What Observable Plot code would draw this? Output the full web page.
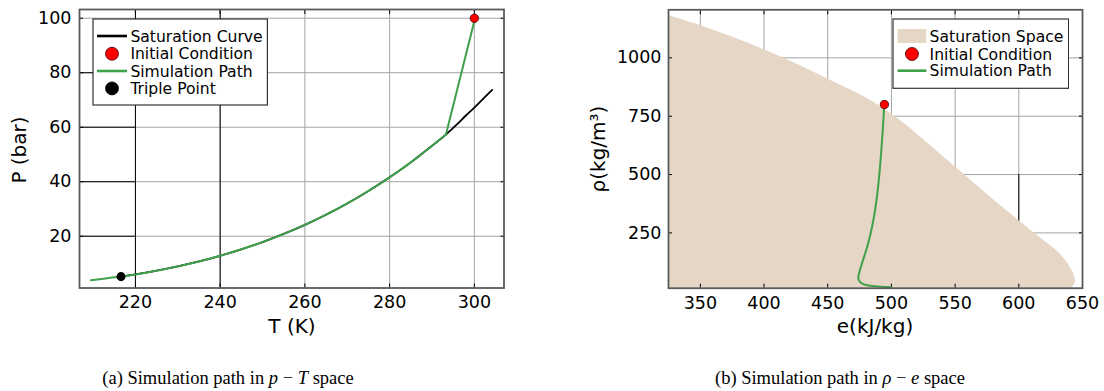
<!DOCTYPE html>
<html><head><meta charset="utf-8">
<script src="https://cdn.jsdelivr.net/npm/d3@7"></script>
<script src="https://cdn.jsdelivr.net/npm/@observablehq/plot@0.6"></script>
<style>
body{margin:0;background:#fff;font-family:"DejaVu Sans",sans-serif;}
#wrap{position:relative;width:1104px;height:391px;overflow:hidden;background:#fff;}
.panel{position:absolute;top:0;}
.lab{position:absolute;font-family:"DejaVu Sans",sans-serif;font-size:20px;white-space:nowrap;color:#000;transform:translate(-50%,-50%);}
.ylab{transform:translate(-50%,-50%) rotate(-90deg);}
.caption{position:absolute;font-family:"Liberation Serif","DejaVu Serif",serif;font-size:18.5px;white-space:nowrap;transform:translate(-50%,-50%);color:#000;}
.legend{position:absolute;}
</style></head><body><div id="wrap"></div>
<script>
// ---------- Panel (a): p - T ----------
const satT = [216.6, 220, 225, 230, 235, 240, 245, 250, 255, 260, 265, 270, 275, 280, 285, 290, 293.3, 296, 298, 300, 302, 304.2];
const satP = [5.18, 5.99, 7.36, 8.93, 10.73, 12.83, 15.2, 17.85, 20.85, 24.19, 27.9, 32.03, 36.6, 41.6, 47.1, 53.2, 57.3, 61.2, 64.3, 67.2, 70.3, 73.7];
const pathT = [209.5, 212, 216.6, 220, 225, 230, 235, 240, 245, 250, 255, 260, 265, 270, 275, 280, 285, 290, 293.3, 300];
const pathP = [3.85, 4.3, 5.18, 5.99, 7.36, 8.93, 10.73, 12.83, 15.2, 17.85, 20.85, 24.19, 27.9, 32.03, 36.6, 41.6, 47.1, 53.2, 57.3, 99];
const initT = [300], initP = [100];
const tripleT = [216.6], tripleP = [5.18];
const tTicks = [220, 240, 260, 280, 300];
const pTicks = [20, 40, 60, 80, 100];

// ---------- Panel (b): rho - e ----------
const spaceE = [325.5, 350, 375, 400, 425, 450, 475, 490, 500, 512, 525, 550, 575, 600, 620, 630, 637, 641.5, 644, 644.4, 643, 641];
const spaceRho = [1181, 1139, 1089, 1035, 975, 910, 843, 796, 760, 710, 650, 533, 416, 303, 215, 172, 130, 92, 60, 40, 22, 13];
const simE = [494.3, 493.3, 492.0, 490.5, 488.5, 485.7, 481.5, 477.5, 475, 474, 474.6, 476.5, 480, 485, 492, 500];
const simRho = [792, 700, 600, 500, 400, 300, 200, 130, 85, 60, 45, 35, 27, 22, 19, 17];
const initE = [494.5], initRho = [800];
const eTicks = [350, 400, 450, 500, 550, 600, 650];
const rhoTicks = [250, 500, 750, 1000];

const GREEN = "#3fa14a", BEIGE = "#e5d6c5", GRID = "#a3a3a3", FRAME = "#5a5a5a";
const FONT = "DejaVu Sans";

const sat = satT.map((T, i) => ({T, P: satP[i]}));
const path = pathT.map((T, i) => ({T, P: pathP[i]}));
const pathCurve = path.slice(0, path.length - 1);
const pathJump = path.slice(path.length - 2);
const init = initT.map((T, i) => ({T, P: initP[i]}));
const triple = tripleT.map((T, i) => ({T, P: tripleP[i]}));
const space = spaceE.map((e, i) => ({e, rho: spaceRho[i]}));
const sim = simE.map((e, i) => ({e, rho: simRho[i]}));
const init2 = initE.map((e, i) => ({e, rho: initRho[i]}));

const wrap = document.getElementById("wrap");
const blank = () => "";

function innerTicks(xt, yt) {
  return [
    Plot.axisX(xt, {anchor: "top", tickSize: -4, tickFormat: blank, label: null, stroke: "#000"}),
    Plot.axisX(xt, {anchor: "bottom", tickSize: -4, tickFormat: blank, label: null, stroke: "#000"}),
    Plot.axisY(yt, {anchor: "left", tickSize: -4, tickFormat: blank, label: null, stroke: "#000"}),
    Plot.axisY(yt, {anchor: "right", tickSize: -4, tickFormat: blank, label: null, stroke: "#000"})
  ];
}

const TDOM = [206.8, 307], PDOM = [1, 103.2];
const left = Plot.plot({
  width: 552, height: 340,
  marginLeft: 79, marginRight: 48.5, marginTop: 9, marginBottom: 52.5,
  style: {fontFamily: FONT, background: "transparent", overflow: "visible"},
  x: {domain: TDOM},
  y: {domain: PDOM},
  marks: [
    Plot.gridX(tTicks, {stroke: GRID, strokeOpacity: 1}),
    Plot.gridY(pTicks, {stroke: GRID, strokeOpacity: 1}),
    Plot.ruleX([220, 240], {stroke: "#000", strokeWidth: 1}),
    Plot.ruleY([20, 40, 60, 80], {x1: TDOM[0], x2: 220, stroke: "#000", strokeWidth: 1}),
    ...innerTicks(tTicks, pTicks),
    Plot.axisX(tTicks, {anchor: "bottom", tickSize: 0, tickPadding: 8, fontSize: 17.5, fontFamily: FONT, label: null}),
    Plot.axisY(pTicks, {anchor: "left", tickSize: 0, tickPadding: 8, fontSize: 17.5, fontFamily: FONT, label: null}),
    Plot.line(sat, {x: "T", y: "P", stroke: "#000", strokeWidth: 1.8, curve: "monotone-x"}),
    Plot.line(pathCurve, {x: "T", y: "P", stroke: GREEN, strokeWidth: 2, curve: "monotone-x"}),
    Plot.line(pathJump, {x: "T", y: "P", stroke: GREEN, strokeWidth: 2}),
    Plot.dot(triple, {x: "T", y: "P", r: 3.8, fill: "#000", stroke: "#000"}),
    Plot.dot(init, {x: "T", y: "P", r: 4.2, fill: "#ff0000", stroke: "#3a0000", strokeWidth: 0.8}),
    Plot.frame({stroke: FRAME, strokeWidth: 1.8})
  ]
});
left.classList.add("panel");
left.style.left = "0px";
wrap.appendChild(left);

const EDOM = [325, 650], RDOM = [13, 1206];
const right = Plot.plot({
  width: 552, height: 340,
  marginLeft: 116, marginRight: 22, marginTop: 9.3, marginBottom: 52.3,
  style: {fontFamily: FONT, background: "transparent", overflow: "visible"},
  x: {domain: EDOM},
  y: {domain: RDOM},
  marks: [
    Plot.gridX(eTicks, {stroke: GRID, strokeOpacity: 1}),
    Plot.gridY(rhoTicks, {stroke: GRID, strokeOpacity: 1}),
    Plot.ruleX([600], {y1: 500, y2: RDOM[0], stroke: "#000", strokeWidth: 1}),
    Plot.areaX(space, {y: "rho", x1: 300, x2: "e", fill: BEIGE, curve: "catmull-rom", clip: true}),
    ...innerTicks(eTicks, rhoTicks),
    Plot.axisX(eTicks, {anchor: "bottom", tickSize: 0, tickPadding: 8, fontSize: 17.5, fontFamily: FONT, label: null, tickFormat: d3.format("d")}),
    Plot.axisY(rhoTicks, {anchor: "left", tickSize: 0, tickPadding: 7, fontSize: 17.5, fontFamily: FONT, label: null, tickFormat: d3.format("d")}),
    Plot.line(sim, {x: "e", y: "rho", stroke: GREEN, strokeWidth: 2, curve: "catmull-rom"}),
    Plot.dot(init2, {x: "e", y: "rho", r: 4.2, fill: "#ff0000", stroke: "#3a0000", strokeWidth: 0.8}),
    Plot.frame({stroke: FRAME, strokeWidth: 1.8})
  ]
});
right.classList.add("panel");
right.style.left = "552px";
wrap.appendChild(right);

// axis labels
function label(text, x, y, cls) {
  const d = document.createElement("div");
  d.className = "lab" + (cls ? " " + cls : "");
  d.style.left = x + "px"; d.style.top = y + "px";
  d.textContent = text;
  wrap.appendChild(d);
}
label("T (K)", 292, 326);
label("P (bar)", 19, 150, "ylab");
label("e(kJ/kg)", 875, 326);
label("ρ(kg/m³)", 598, 149, "ylab");

// captions
function caption(html, x, y) {
  const d = document.createElement("div");
  d.className = "caption";
  d.style.left = x + "px"; d.style.top = y + "px";
  d.innerHTML = html;
  wrap.appendChild(d);
}
caption("(a) Simulation path in <i>p</i> − <i>T</i> space", 228, 378);
caption("(b) Simulation path in <i>ρ</i> − <i>e</i> space", 840, 378);

// legends
function legend(x, y, w, h, items) {
  const svg = d3.create("svg").attr("class", "legend")
    .attr("width", w + 2).attr("height", h + 2)
    .style("left", (x - 1) + "px").style("top", (y - 1) + "px");
  svg.append("rect").attr("x", 1).attr("y", 1).attr("width", w).attr("height", h)
    .attr("fill", "#fff").attr("stroke", "#333").attr("stroke-width", 1.2);
  items.forEach(it => {
    const g = svg.append("g").attr("transform", `translate(1,${1 + it.y})`);
    if (it.kind === "line") g.append("line").attr("x1", it.sx0).attr("x2", it.sx1).attr("stroke", it.color).attr("stroke-width", 2.6);
    if (it.kind === "dot") g.append("circle").attr("cx", (it.sx0 + it.sx1) / 2).attr("r", it.r).attr("fill", it.color).attr("stroke", it.stroke || it.color).attr("stroke-width", 0.8);
    if (it.kind === "rect") g.append("rect").attr("x", it.sx0).attr("y", -7).attr("width", it.sx1 - it.sx0).attr("height", 14).attr("fill", it.color);
    g.append("text").attr("x", it.tx).attr("dy", "0.36em").attr("font-size", 15.6)
      .attr("font-family", FONT).attr("fill", "#000").text(it.text);
  });
  wrap.appendChild(svg.node());
}
legend(93.3, 19.3, 174.4, 86, [
  {kind: "line", y: 17, sx0: 4, sx1: 34, color: "#000", tx: 37.4, text: "Saturation Curve"},
  {kind: "dot", y: 34.7, sx0: 4, sx1: 34, r: 6.5, color: "#ff0000", stroke: "#3a0000", tx: 37.4, text: "Initial Condition"},
  {kind: "line", y: 52, sx0: 4, sx1: 34, color: GREEN, tx: 37.4, text: "Simulation Path"},
  {kind: "dot", y: 69.4, sx0: 4, sx1: 34, r: 6.5, color: "#000", tx: 37.4, text: "Triple Point"}
]);
legend(892.7, 19, 175.6, 69.3, [
  {kind: "rect", y: 17, sx0: 4.6, sx1: 33.3, color: BEIGE, tx: 36.6, text: "Saturation Space"},
  {kind: "dot", y: 35, sx0: 4.6, sx1: 33.3, r: 6.5, color: "#ff0000", stroke: "#3a0000", tx: 36.6, text: "Initial Condition"},
  {kind: "line", y: 51.7, sx0: 4.6, sx1: 33.3, color: GREEN, tx: 36.6, text: "Simulation Path"}
]);
</script>
</body></html>
